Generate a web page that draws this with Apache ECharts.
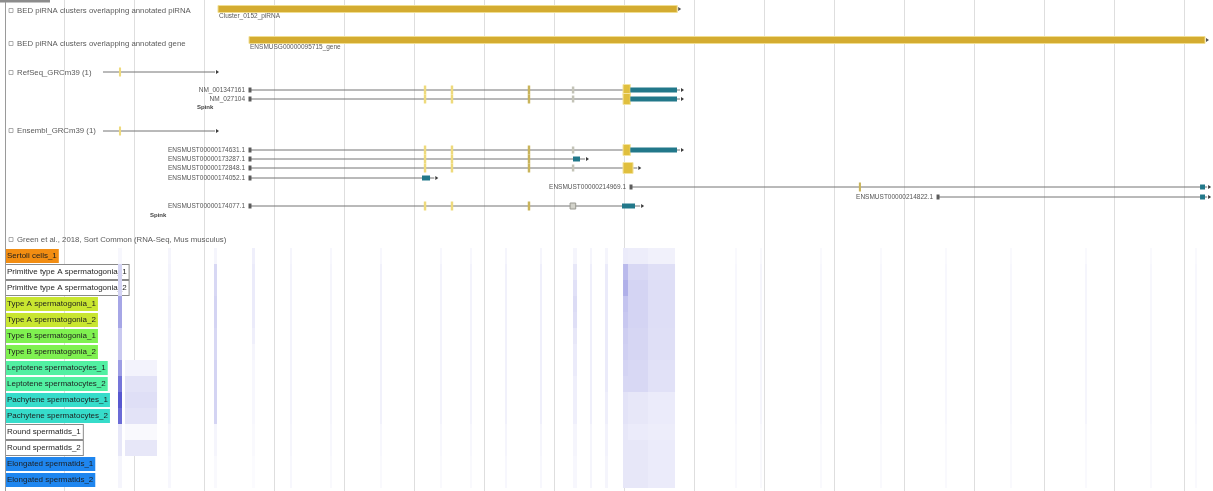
<!DOCTYPE html>
<html>
<head>
<meta charset="utf-8">
<title>Spink locus – piRNA clusters, transcripts and spermatogenic expression</title>
<script src="https://cdn.jsdelivr.net/npm/echarts@6/dist/echarts.min.js"></script>
<style>
  html, body { margin: 0; padding: 0; background: #ffffff; }
  #chart { width: 1213px; height: 491px; }
</style>
</head>
<body>
<div id="chart"></div>
<script>
// ---- genomic window (bp offsets); the grid starts at the first 1 kb line ----
const WINDOW_MIN = 1000;
const WINDOW_MAX = 17414;
const GRID_STEP = 1000;

// ---- BED tracks: piRNA clusters ----
const piRNAClusterNames = ['Cluster_0152_piRNA'];
const piRNAClusterSpans = [[3200, 9760]];
const geneClusterNames = ['ENSMUSG00000095715_gene'];
const geneClusterSpans = [[3643, 17300]];

// ---- RefSeq transcripts ----
// exon kinds: u = pale exon, d = darker exon, g = grey exon, b = boxed exon,
//             y = yellow block, c = coding block
const refseqOverviewSpan = [1557, 3157];
const refseqOverviewExons = [[1785, 1815, 'u']];
const refseqNames = ['NM_001347161', 'NM_027104'];
const refseqSpans = [[3657, 9800], [3657, 9800]];
const refseqExons = [
  [[6140, 6175, 'u'], [6525, 6560, 'u'], [7625, 7660, 'd'], [8255, 8290, 'g'], [8986, 9090, 'y'], [9090, 9757, 'c']],
  [[6140, 6175, 'u'], [6525, 6560, 'u'], [7625, 7660, 'd'], [8255, 8290, 'g'], [8986, 9090, 'y'], [9090, 9757, 'c']]
];
const refseqGeneName = 'Spink';

// ---- Ensembl transcripts ----
const ensemblOverviewSpan = [1557, 3157];
const ensemblOverviewExons = [[1785, 1815, 'u']];
const ensemblNames = [
  'ENSMUST00000174631.1', 'ENSMUST00000173287.1', 'ENSMUST00000172848.1',
  'ENSMUST00000174052.1', 'ENSMUST00000214969.1', 'ENSMUST00000214822.1',
  'ENSMUST00000174077.1'
];
const ensemblSpans = [
  [3657, 9800], [3657, 8443], [3657, 9190], [3657, 6290],
  [9100, 17330], [13486, 17330], [3657, 9230]
];
const ensemblExons = [
  [[6140, 6175, 'u'], [6525, 6560, 'u'], [7625, 7660, 'd'], [8255, 8290, 'g'], [8986, 9090, 'y'], [9090, 9757, 'c']],
  [[6140, 6175, 'u'], [6525, 6560, 'u'], [7625, 7660, 'd'], [8271, 8371, 'c']],
  [[6140, 6175, 'u'], [6525, 6560, 'u'], [7625, 7660, 'd'], [8255, 8290, 'g'], [8986, 9129, 'y']],
  [[6114, 6229, 'c']],
  [[12355, 12385, 'd'], [17229, 17300, 'c']],
  [[17229, 17300, 'c']],
  [[6140, 6175, 'u'], [6525, 6560, 'u'], [7625, 7660, 'd'], [8230, 8310, 'b'], [8971, 9157, 'c']]
];
const ensemblGeneName = 'Spink';

// ---- RNA-Seq expression by sorted cell type ----
const sampleNames = [
  'Sertoli cells_1',
  'Primitive type A spermatogonia_1', 'Primitive type A spermatogonia_2',
  'Type A spermatogonia_1', 'Type A spermatogonia_2',
  'Type B spermatogonia_1', 'Type B spermatogonia_2',
  'Leptotene spermatocytes_1', 'Leptotene spermatocytes_2',
  'Pachytene spermatocytes_1', 'Pachytene spermatocytes_2',
  'Round spermatids_1', 'Round spermatids_2',
  'Elongated spermatids_1', 'Elongated spermatids_2'
];
const sampleColors = [
  '#f28d12',
  '#ffffff', '#ffffff',
  '#c9e630', '#c9e630',
  '#7ff150', '#7ff150',
  '#52f0a2', '#52f0a2',
  '#36dcca', '#36dcca',
  '#ffffff', '#ffffff',
  '#1f86ef', '#1f86ef'
];
// signal bins: [start bp, end bp, level per sample (0..1)]
const signalBins = [
  [1771, 1829, [0.04, 0.22, 0.22, 0.45, 0.45, 0.28, 0.28, 0.5, 0.7, 0.85, 0.75, 0.12, 0.12, 0.05, 0.05]],
  [1871, 2329, [0, 0, 0, 0, 0, 0, 0, 0.06, 0.14, 0.16, 0.14, 0.03, 0.12, 0, 0]],
  [2486, 2529, [0.05, 0.06, 0.06, 0.07, 0.07, 0.06, 0.06, 0.08, 0.08, 0.08, 0.08, 0.05, 0.05, 0.04, 0.04]],
  [3143, 3186, [0.05, 0.2, 0.2, 0.22, 0.22, 0.2, 0.2, 0.22, 0.22, 0.22, 0.22, 0.05, 0.05, 0.03, 0.03]],
  [3686, 3729, [0.08, 0.1, 0.1, 0.1, 0.1, 0.08, 0.05, 0.04, 0.04, 0.04, 0.04, 0.03, 0.03, 0.02, 0.02]],
  [4229, 4257, [0.05, 0.06, 0.06, 0.06, 0.06, 0.06, 0.06, 0.06, 0.06, 0.06, 0.06, 0.05, 0.05, 0.04, 0.04]],
  [4800, 4829, [0.04, 0.05, 0.05, 0.05, 0.05, 0.05, 0.05, 0.05, 0.05, 0.05, 0.05, 0.04, 0.04, 0.03, 0.03]],
  [5514, 5543, [0.04, 0.07, 0.07, 0.07, 0.07, 0.07, 0.07, 0.07, 0.07, 0.07, 0.07, 0.04, 0.04, 0.03, 0.03]],
  [6371, 6400, [0.04, 0.06, 0.06, 0.06, 0.06, 0.06, 0.06, 0.06, 0.06, 0.06, 0.06, 0.04, 0.04, 0.03, 0.03]],
  [6800, 6829, [0.04, 0.06, 0.06, 0.06, 0.06, 0.06, 0.06, 0.06, 0.06, 0.06, 0.06, 0.04, 0.04, 0.03, 0.03]],
  [7300, 7329, [0.05, 0.07, 0.07, 0.07, 0.07, 0.07, 0.07, 0.07, 0.07, 0.07, 0.07, 0.05, 0.05, 0.04, 0.04]],
  [7800, 7829, [0.05, 0.08, 0.08, 0.08, 0.08, 0.08, 0.08, 0.08, 0.08, 0.08, 0.08, 0.05, 0.05, 0.04, 0.04]],
  [8271, 8329, [0.05, 0.12, 0.15, 0.18, 0.16, 0.12, 0.1, 0.1, 0.08, 0.08, 0.08, 0.05, 0.05, 0.04, 0.04]],
  [8514, 8543, [0.05, 0.08, 0.08, 0.08, 0.08, 0.08, 0.08, 0.08, 0.08, 0.08, 0.08, 0.05, 0.05, 0.05, 0.05]],
  [8729, 8771, [0.05, 0.1, 0.1, 0.1, 0.1, 0.1, 0.1, 0.1, 0.1, 0.08, 0.08, 0.06, 0.06, 0.05, 0.05]],
  [8986, 9057, [0.1, 0.35, 0.4, 0.3, 0.28, 0.25, 0.24, 0.22, 0.2, 0.14, 0.14, 0.12, 0.12, 0.12, 0.12]],
  [9057, 9343, [0.09, 0.2, 0.22, 0.22, 0.22, 0.21, 0.21, 0.2, 0.2, 0.12, 0.12, 0.1, 0.12, 0.12, 0.12]],
  [9343, 9729, [0.07, 0.16, 0.17, 0.17, 0.17, 0.16, 0.16, 0.15, 0.15, 0.1, 0.1, 0.09, 0.1, 0.1, 0.1]],
  [10586, 10614, [0.03, 0.04, 0.04, 0.04, 0.04, 0.04, 0.04, 0.04, 0.04, 0.04, 0.04, 0.03, 0.03, 0.03, 0.03]],
  [10943, 10971, [0.03, 0.05, 0.05, 0.05, 0.05, 0.05, 0.05, 0.05, 0.05, 0.05, 0.05, 0.03, 0.03, 0.03, 0.03]],
  [11800, 11829, [0.03, 0.04, 0.04, 0.04, 0.04, 0.04, 0.04, 0.04, 0.04, 0.04, 0.04, 0.03, 0.03, 0.03, 0.03]],
  [12657, 12686, [0.03, 0.04, 0.04, 0.04, 0.04, 0.04, 0.04, 0.04, 0.04, 0.04, 0.04, 0.03, 0.03, 0.03, 0.03]],
  [13586, 13614, [0.03, 0.04, 0.04, 0.04, 0.04, 0.04, 0.04, 0.04, 0.04, 0.04, 0.04, 0.03, 0.03, 0.03, 0.03]],
  [14514, 14543, [0.03, 0.04, 0.04, 0.04, 0.04, 0.04, 0.04, 0.04, 0.04, 0.04, 0.04, 0.03, 0.03, 0.03, 0.03]],
  [15586, 15614, [0.03, 0.05, 0.05, 0.05, 0.05, 0.05, 0.05, 0.05, 0.05, 0.05, 0.05, 0.03, 0.03, 0.03, 0.03]],
  [16514, 16543, [0.03, 0.04, 0.04, 0.04, 0.04, 0.04, 0.04, 0.04, 0.04, 0.04, 0.04, 0.03, 0.03, 0.03, 0.03]],
  [17157, 17186, [0.03, 0.04, 0.04, 0.04, 0.04, 0.04, 0.04, 0.04, 0.04, 0.04, 0.04, 0.03, 0.03, 0.03, 0.03]]
];

// ---- track titles ----
const trackTitles = [
  'BED piRNA clusters overlapping annotated piRNA',
  'BED piRNA clusters overlapping annotated gene',
  'RefSeq_GRCm39 (1)',
  'Ensembl_GRCm39 (1)',
  'Green et al., 2018, Sort Common (RNA-Seq, Mus musculus)'
];

// ---- vertical layout (pixel rows on the y scale) ----
const layout = {
  titleY: [11, 44, 73, 131, 240],
  bedY: [9, 40],
  refseqOverviewY: 72,
  refseqY: [90, 99],
  refseqGeneY: 107,
  ensemblOverviewY: 131,
  ensemblY: [150, 159, 168, 178, 187, 197, 206],
  ensemblGeneY: 215,
  heatTop: 248,
  heatRow: 16
};

const FONT = '"Liberation Sans", Arial, sans-serif';

// ---- assemble drawable features ----
const features = [];
piRNAClusterSpans.forEach((s, i) => features.push({ kind: 'bed', span: s, y: layout.bedY[0], label: piRNAClusterNames[i] }));
geneClusterSpans.forEach((s, i) => features.push({ kind: 'bed', span: s, y: layout.bedY[1], label: geneClusterNames[i] }));
features.push({ kind: 'overview', span: refseqOverviewSpan, y: layout.refseqOverviewY, exons: refseqOverviewExons });
refseqSpans.forEach((s, i) => features.push({ kind: 'tx', span: s, y: layout.refseqY[i], exons: refseqExons[i], label: refseqNames[i] }));
features.push({ kind: 'overview', span: ensemblOverviewSpan, y: layout.ensemblOverviewY, exons: ensemblOverviewExons });
ensemblSpans.forEach((s, i) => features.push({ kind: 'tx', span: s, y: layout.ensemblY[i], exons: ensemblExons[i], label: ensemblNames[i] }));

const signalCells = [];
signalBins.forEach(b => b[2].forEach((lv, row) => {
  if (lv > 0) signalCells.push([b[0], b[1], layout.heatTop + row * layout.heatRow, lv]);
}));

const exonStyle = {
  u: { h: 9, fill: '#eeda7c' },
  d: { h: 9, fill: '#c9b45a' },
  g: { h: 7, fill: '#c4c4b8' },
  b: { h: 6, fill: '#d2d2ca', stroke: '#9a9a92' },
  y: { h: 11, fill: '#e0bf3e', stroke: '#f3e39e' },
  c: { h: 5, fill: '#22788a' }
};

function levelColor(v) {
  const t = Math.max(0, Math.min(1, v));
  const r = Math.round(255 - t * (255 - 58));
  const g = Math.round(255 - t * (255 - 58));
  const b = Math.round(255 - t * (255 - 200));
  return 'rgb(' + r + ',' + g + ',' + b + ')';
}

function renderFeature(params, api) {
  const f = features[params.dataIndex];
  const a = api.coord([api.value(0), api.value(2)]);
  const b = api.coord([api.value(1), api.value(2)]);
  const y = a[1];
  const kids = [];
  if (f.kind === 'bed') {
    kids.push({ type: 'rect', shape: { x: a[0], y: y - 3.5, width: b[0] - a[0], height: 7 },
      style: { fill: '#d4ac31', stroke: '#f0de92', lineWidth: 1 } });
    kids.push({ type: 'polygon', shape: { points: [[b[0] + 1, y - 2], [b[0] + 4, y], [b[0] + 1, y + 2]] },
      style: { fill: '#555' } });
    kids.push({ type: 'text', style: { x: a[0] + 1, y: y + 4, text: f.label, fill: '#5a5a5a',
      font: '6.5px ' + FONT, textVerticalAlign: 'top' } });
    return { type: 'group', children: kids };
  }
  kids.push({ type: 'line', shape: { x1: a[0], y1: y, x2: b[0], y2: y },
    style: { stroke: '#747474', lineWidth: 1 } });
  (f.exons || []).forEach(e => {
    const s = exonStyle[e[2]];
    const x0 = api.coord([e[0], f.y])[0];
    const x1 = api.coord([e[1], f.y])[0];
    const w = Math.max(2, x1 - x0);
    kids.push({ type: 'rect', shape: { x: x0, y: y - s.h / 2, width: w, height: s.h },
      style: { fill: s.fill, stroke: s.stroke || null, lineWidth: s.stroke ? 1 : 0 } });
  });
  kids.push({ type: 'polygon', shape: { points: [[b[0] + 1, y - 2], [b[0] + 4, y], [b[0] + 1, y + 2]] },
    style: { fill: '#3a3a3a' } });
  if (f.kind === 'tx') {
    kids.push({ type: 'rect', shape: { x: a[0] - 1.5, y: y - 2.5, width: 3, height: 5 }, style: { fill: '#5c5c5c' } });
    kids.push({ type: 'text', style: { x: a[0] - 5, y: y, text: f.label, fill: '#555',
      font: '6.5px ' + FONT, textAlign: 'right', textVerticalAlign: 'middle' } });
  }
  return { type: 'group', children: kids };
}

function renderSignal(params, api) {
  const p0 = api.coord([api.value(0), api.value(2)]);
  const p1 = api.coord([api.value(1), api.value(2) + layout.heatRow]);
  return { type: 'rect', shape: { x: p0[0], y: p0[1], width: Math.max(1.5, p1[0] - p0[0]), height: p1[1] - p0[1] },
    style: { fill: levelColor(api.value(3)) } };
}

// ---- static text and frame ----
const graphics = [];
graphics.push({ type: 'rect', z: 5, shape: { x: 0, y: 0, width: 50, height: 2.5 }, style: { fill: '#8c8c8c' } });
graphics.push({ type: 'line', z: 5, shape: { x1: 5.5, y1: 2, x2: 5.5, y2: 491 }, style: { stroke: '#9a9a9a', lineWidth: 1 } });
trackTitles.forEach((t, i) => {
  const y = layout.titleY[i];
  graphics.push({ type: 'rect', z: 5, shape: { x: 9, y: y - 2.5, width: 4, height: 4 },
    style: { fill: '#fff', stroke: '#999', lineWidth: 0.8 } });
  graphics.push({ type: 'text', z: 5, style: { x: 17, y: y, text: t, fill: '#5a5a5a',
    font: '7.8px ' + FONT, textVerticalAlign: 'middle' } });
});
graphics.push({ type: 'text', z: 5, style: { x: 197, y: layout.refseqGeneY, text: refseqGeneName,
  fill: '#444', font: 'bold 6px ' + FONT, textVerticalAlign: 'middle' } });
graphics.push({ type: 'text', z: 5, style: { x: 150, y: layout.ensemblGeneY, text: ensemblGeneName,
  fill: '#444', font: 'bold 6px ' + FONT, textVerticalAlign: 'middle' } });
sampleNames.forEach((n, i) => {
  const white = sampleColors[i] === '#ffffff';
  graphics.push({ type: 'text', z: 1, style: {
    x: 6, y: layout.heatTop + i * layout.heatRow + 1, text: n, fill: '#1e1e1e',
    font: '8px ' + FONT, textVerticalAlign: 'top', lineHeight: 8,
    backgroundColor: sampleColors[i], padding: [3, 2, 3, 1],
    borderColor: white ? '#8a8a8a' : null, borderWidth: white ? 1 : 0
  } });
});

const chart = echarts.init(document.getElementById('chart'));
chart.setOption({
  animation: false,
  backgroundColor: '#ffffff',
  grid: { left: 64, right: 0, top: 0, bottom: 0, containLabel: false },
  xAxis: {
    type: 'value', min: WINDOW_MIN, max: WINDOW_MAX, interval: GRID_STEP,
    axisLine: { show: false }, axisTick: { show: false }, axisLabel: { show: false },
    splitLine: { show: true, showMinLine: true, lineStyle: { color: '#dedede', width: 1 } }
  },
  yAxis: {
    type: 'value', min: 0, max: 491, inverse: true, show: false,
    splitLine: { show: false }
  },
  graphic: { elements: graphics },
  series: [
    {
      type: 'custom', name: 'expression', z: 2, clip: false,
      renderItem: renderSignal,
      encode: { x: [0, 1], y: 2 },
      data: signalCells
    },
    {
      type: 'custom', name: 'features', z: 3, clip: false,
      renderItem: renderFeature,
      encode: { x: [0, 1], y: 2 },
      data: features.map(f => [f.span[0], f.span[1], f.y])
    }
  ]
});
</script>
</body>
</html>
